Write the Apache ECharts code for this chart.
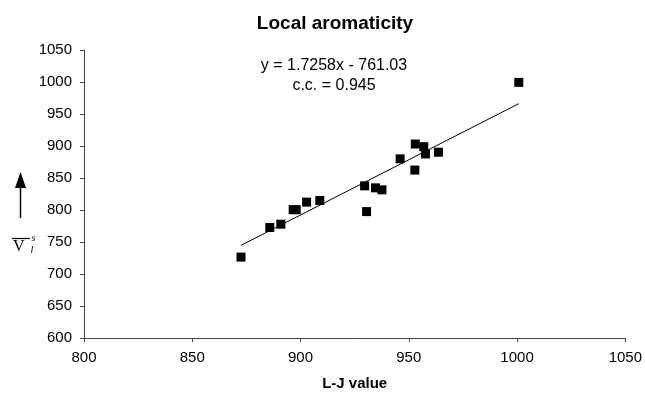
<!DOCTYPE html>
<html>
<head>
<meta charset="utf-8">
<script src="https://cdn.jsdelivr.net/npm/echarts@6/dist/echarts.min.js"></script>
<style>
  html, body { margin: 0; padding: 0; background: #fff; }
  #chart { width: 645px; height: 396px; }
</style>
</head>
<body>
<div id="chart"></div>
<script>
// L-J value vs local aromaticity
const ljValues = [872.5, 885.8, 890.9, 896.6, 898.0, 902.8, 908.9, 929.6, 930.5, 934.6,
  937.6, 946.0, 952.8, 953.0, 956.9, 957.7, 963.7, 1000.8]
const aromValues = [726.4, 772.7, 777.8, 800.5, 800.5, 812.3, 814.9, 837.7, 797.5, 834.6,
  831.5, 879.9, 862.4, 903.1, 898.9, 887.6, 890.3, 999.4]
// trend line y = 1.7258x - 761.03
const slope = 1.7258
const intercept = -761.03
const fitText = ['y = 1.7258x - 761.03', 'c.c. = 0.945']

const font = '"Liberation Sans", Arial, Helvetica, sans-serif'

const points = ljValues.map((x, i) => [x, aromValues[i]])
const xMin = Math.min(...ljValues)
const xMax = Math.max(...ljValues)
const fitLine = [xMin, xMax].map((x) => [x, slope * x + intercept])

const chart = echarts.init(document.getElementById('chart'))
chart.setOption({
  animation: false,
  backgroundColor: '#fff',
  title: {
    text: 'Local aromaticity',
    left: 330,
    top: 9,
    textAlign: 'center',
    textStyle: { fontFamily: font, fontSize: 19, fontWeight: 'bold', color: '#000' }
  },
  grid: { left: 84, right: 18, top: 50, bottom: 55 },
  xAxis: {
    type: 'value',
    min: 800,
    max: 1050,
    interval: 50,
    name: 'L-J value',
    nameLocation: 'middle',
    nameGap: 38,
    nameTextStyle: { fontFamily: font, fontSize: 15, fontWeight: 'bold', color: '#000' },
    axisLine: { lineStyle: { color: '#444', width: 1 } },
    axisTick: { length: 4, lineStyle: { color: '#444' } },
    axisLabel: { fontFamily: font, fontSize: 15, color: '#000', margin: 12, formatter: (v) => String(v) },
    splitLine: { show: false }
  },
  yAxis: {
    type: 'value',
    min: 600,
    max: 1050,
    interval: 50,
    axisLine: { show: true, lineStyle: { color: '#444', width: 1 } },
    axisTick: { show: true, length: 4, lineStyle: { color: '#444' } },
    axisLabel: { fontFamily: font, fontSize: 15, color: '#000', margin: 12, formatter: (v) => String(v) },
    splitLine: { show: false }
  },
  graphic: [
    {
      type: 'text', x: 334, y: 58,
      style: { text: fitText[0], fontFamily: font, fontSize: 16, fill: '#000', align: 'center', verticalAlign: 'top' }
    },
    {
      type: 'text', x: 334, y: 78,
      style: { text: fitText[1], fontFamily: font, fontSize: 16, fill: '#000', align: 'center', verticalAlign: 'top' }
    },
    // upward arrow next to the y axis
    { type: 'line', shape: { x1: 20.5, y1: 186, x2: 20.5, y2: 218 }, style: { stroke: '#000', lineWidth: 1.5 } },
    { type: 'polygon', shape: { points: [[20.5, 172], [15, 188], [26, 188]] }, style: { fill: '#000' } },
    // V with overline, superscript s, subscript l
    { type: 'line', shape: { x1: 12, y1: 238.5, x2: 30, y2: 238.5 }, style: { stroke: '#000', lineWidth: 1.2 } },
    {
      type: 'text', left: 13, top: 239,
      style: { text: 'V', fontFamily: '"Liberation Serif", "Times New Roman", serif', fontSize: 16, fill: '#000' }
    },
    {
      type: 'text', left: 31.5, top: 233,
      style: { text: 's', fontFamily: '"Liberation Serif", serif', fontStyle: 'italic', fontSize: 10, fill: '#000' }
    },
    {
      type: 'text', left: 30.5, top: 245,
      style: { text: 'l', fontFamily: '"Liberation Serif", serif', fontStyle: 'italic', fontSize: 10, fill: '#000' }
    }
  ],
  series: [
    {
      type: 'line',
      data: fitLine,
      symbol: 'none',
      lineStyle: { color: '#000', width: 1 },
      silent: true,
      z: 1
    },
    {
      type: 'scatter',
      data: points,
      symbol: 'rect',
      symbolSize: 9,
      itemStyle: { color: '#000', opacity: 1 },
      z: 2
    }
  ]
})
</script>
</body>
</html>
